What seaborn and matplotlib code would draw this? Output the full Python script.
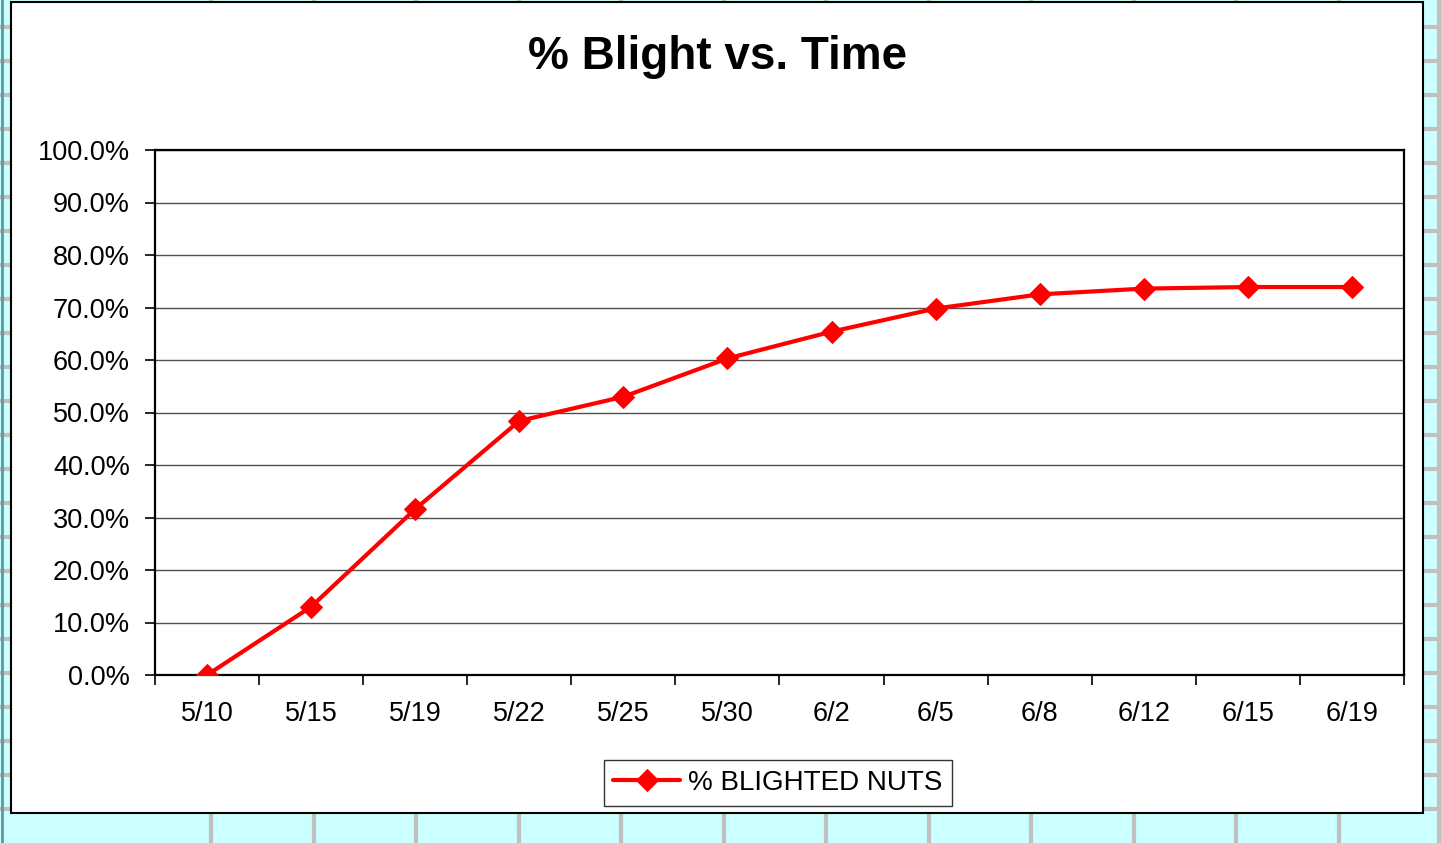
import matplotlib
matplotlib.use("Agg")
import matplotlib.pyplot as plt
import seaborn as sns
import pandas as pd
from matplotlib.ticker import FuncFormatter, FixedLocator

# ------------------------------
# DATA
# ------------------------------
dates = ["5/10", "5/15", "5/19", "5/22", "5/25", "5/30",
         "6/2", "6/5", "6/8", "6/12", "6/15", "6/19"]
blighted = [0.000, 0.130, 0.316, 0.484, 0.530, 0.603,
            0.654, 0.698, 0.725, 0.736, 0.739, 0.739]
series_name = "% BLIGHTED NUTS"

df = pd.DataFrame({"Date": dates, "Blight": blighted})

# ------------------------------
# STYLE
# ------------------------------
sns.set_style("white")
plt.rcParams["font.family"] = ["Liberation Sans", "DejaVu Sans"]
plt.rcParams["text.color"] = "black"
plt.rcParams["xtick.color"] = "black"
plt.rcParams["ytick.color"] = "black"
plt.rcParams["xtick.labelcolor"] = "black"
plt.rcParams["ytick.labelcolor"] = "black"

W, H = 1441, 843
fig = plt.figure(figsize=(W / 100, H / 100), dpi=100)

# spreadsheet background (cyan cells)
bg = fig.add_axes([0, 0, 1, 1])
bg.set_xlim(0, W)
bg.set_ylim(H, 0)
bg.axis("off")
bg.add_patch(plt.Rectangle((0, 0), W, H, color="#CCFFFF", zorder=0))
for y in range(27, H, 34):
    bg.axhline(y, color="#C0C0C0", lw=3, zorder=1)
x = 211
while x < W:
    bg.axvline(x, color="#C0C0C0", lw=3, zorder=1)
    x += 102.5
bg.axvline(2, color="#5A9A9A", lw=2, zorder=1)
bg.axvline(1439, color="#C0C0C0", lw=3, zorder=1)
# white chart area
bg.add_patch(plt.Rectangle((11, 2), 1412, 811, facecolor="white",
                           edgecolor="black", lw=1.5, zorder=2))

# ------------------------------
# PLOT
# ------------------------------
ax = fig.add_axes([155 / W, 1 - 675 / H, (1404 - 155) / W, (675 - 150) / H])
ax.set_facecolor("white")
sns.lineplot(data=df, x="Date", y="Blight", ax=ax, sort=False,
             color="#FF0000", lw=3.0, marker="D", markersize=11,
             markeredgecolor="#FF0000", label=series_name, zorder=5)

ax.set_xlim(-0.5, len(dates) - 0.5)
ax.set_ylim(0, 1.0)
ax.set_yticks([i / 10 for i in range(11)])
ax.yaxis.set_major_formatter(FuncFormatter(lambda v, p: f"{v * 100:.1f}%"))
ax.set_xticks(range(len(dates)))
ax.set_xticklabels(dates)
ax.xaxis.set_minor_locator(FixedLocator([i - 0.5 for i in range(len(dates) + 1)]))

ax.tick_params(axis="y", which="major", direction="out", length=7, width=1.2,
               color="black", pad=11, labelsize=19.5, left=True)
ax.tick_params(axis="x", which="major", length=0, pad=19, labelsize=19.5)
ax.tick_params(axis="x", which="minor", direction="out", length=7, width=1.2,
               color="black", bottom=True)

ax.grid(axis="y", color="#505050", lw=1.0)
ax.set_axisbelow(True)
for s in ax.spines.values():
    s.set_visible(True)
    s.set_color("black")
    s.set_linewidth(1.6)

ax.set_xlabel("")
ax.set_ylabel("")

fig.text(718 / W, 1 - 57 / H, "% Blight vs. Time", ha="center", va="center",
         fontsize=33, fontweight="bold", color="black")

leg = ax.legend(loc="center", bbox_to_anchor=(778 / W, 1 - 783 / H),
                bbox_transform=fig.transFigure, fontsize=20, frameon=True,
                fancybox=False, handlelength=2.4, handletextpad=0.3,
                borderpad=0.35, labelcolor="black")
leg.get_frame().set_edgecolor("black")
leg.get_frame().set_linewidth(1.0)

fig.savefig("out.png", dpi=100)
